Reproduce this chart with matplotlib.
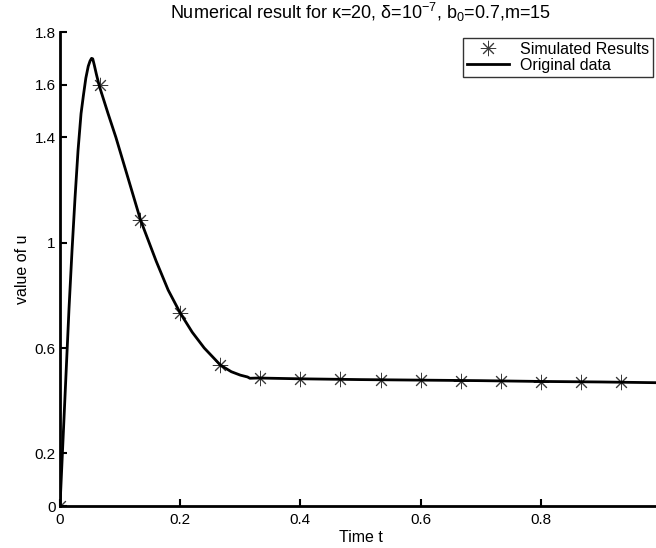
import matplotlib
matplotlib.use("Agg")
import matplotlib.pyplot as plt

plt.rcParams["font.family"] = ["Liberation Sans", "DejaVu Sans"]
plt.rcParams["mathtext.fontset"] = "custom"
plt.rcParams["mathtext.rm"] = "Liberation Sans"
plt.rcParams["mathtext.it"] = "Liberation Sans"

# original data curve
line_t = [0.0, 0.002, 0.005, 0.01, 0.015, 0.02, 0.025, 0.03, 0.035, 0.039,
          0.043, 0.047, 0.05, 0.0525, 0.0545, 0.057, 0.0605, 0.0654, 0.08,
          0.093, 0.11, 0.134, 0.16, 0.18, 0.2, 0.22, 0.24, 0.267, 0.285,
          0.3, 0.312, 0.316, 0.33, 0.4, 0.5, 0.6, 0.7, 0.8, 0.9, 1.0]
line_u = [0.0, 0.1, 0.25, 0.5, 0.75, 0.97, 1.17, 1.35, 1.49, 1.56,
          1.625, 1.67, 1.69, 1.70, 1.698, 1.675, 1.64, 1.595, 1.49,
          1.40, 1.27, 1.086, 0.93, 0.82, 0.733, 0.66, 0.6, 0.535, 0.51,
          0.497, 0.49, 0.485, 0.486, 0.483, 0.480, 0.478, 0.476, 0.473,
          0.471, 0.468]

# simulated results (stars)
sim_t = [0.0, 0.0667, 0.1333, 0.2, 0.2667, 0.3333, 0.4, 0.4667, 0.5333,
         0.6, 0.6667, 0.7333, 0.8, 0.8667, 0.9333]
sim_u = [0.0, 1.6, 1.086, 0.733, 0.535, 0.486, 0.483, 0.481, 0.479,
         0.477, 0.476, 0.474, 0.472, 0.471, 0.469]

x_ticks = [0, 0.2, 0.4, 0.6, 0.8]
y_ticks = [0, 0.2, 0.6, 1, 1.4, 1.6, 1.8]

fig = plt.figure(figsize=(6.56, 5.48), dpi=100)
ax = fig.add_axes([60 / 656, 42 / 548, 601 / 656, 474 / 548])

star, = ax.plot(sim_t, sim_u, linestyle="none", marker=(8, 2, 0),
                markersize=11, markeredgewidth=0.7, color="#3a3a3a",
                label="Simulated Results")
line, = ax.plot(line_t, line_u, color="black", linewidth=2.0,
                label="Original data")

ax.set_xlim(0, 1.0)
ax.set_ylim(0, 1.8)
ax.set_xticks(x_ticks)
ax.set_xticklabels(["0", "0.2", "0.4", "0.6", "0.8"])
ax.set_yticks(y_ticks)
ax.set_yticklabels(["0", "0.2", "0.6", "1", "1.4", "1.6", "1.8"])
ax.tick_params(direction="in", length=5, width=1.5, labelsize=11)
ax.tick_params(axis="x", pad=5)
ax.tick_params(axis="y", pad=3)

for side in ["top", "right"]:
    ax.spines[side].set_visible(False)
for side in ["left", "bottom"]:
    ax.spines[side].set_linewidth(2.0)

ax.set_xlabel("Time t", fontsize=11.5)
ax.set_ylabel("value of u", fontsize=11.5)
ax.xaxis.set_label_coords(0.5, -0.051)
ax.yaxis.set_label_coords(-0.05, 0.5)
ax.set_title(r"Numerical result for $\kappa$=20, $\delta$=10$^{-7}$, b$_0$=0.7,m=15",
             fontsize=13, pad=9)

leg = fig.legend(handles=[star, line], loc="upper right",
                 bbox_to_anchor=(653 / 656, 1 - 38 / 548), fontsize=11.5,
                 frameon=True, fancybox=False, edgecolor="black",
                 handlelength=2.6, handletextpad=0.7, borderpad=0.25,
                 labelspacing=0.05, borderaxespad=0)
leg.get_frame().set_linewidth(1.0)

fig.savefig("out.png", dpi=100)
